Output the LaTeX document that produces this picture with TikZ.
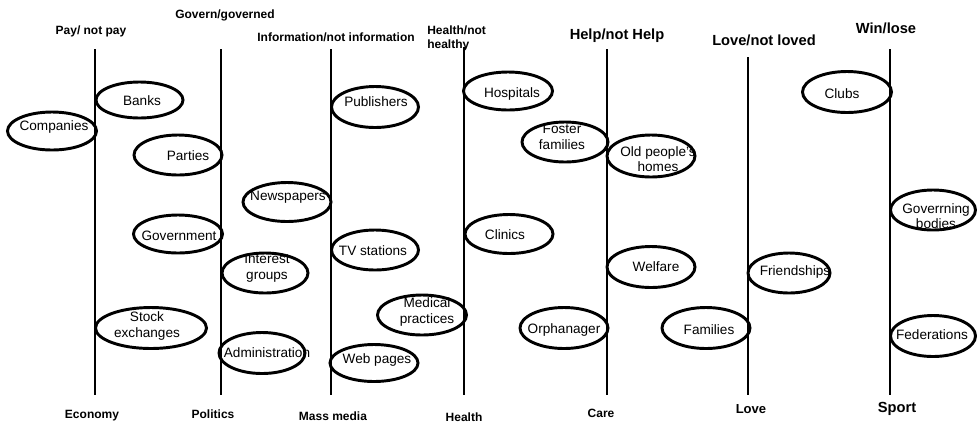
\documentclass[tikz,border=0pt]{standalone}
\usepackage{fontspec}
\setmainfont{Liberation Sans}
\usetikzlibrary{shapes.geometric}
\tikzset{
  oval/.style={ellipse, draw=black, line width=2.2pt, inner sep=0pt},
  axis/.style={line width=1.5pt},
  txt/.style={inner sep=0pt, align=center, font=\fontsize{10.2}{11.6}\selectfont},
  head/.style={inner sep=0pt, align=center, font=\fontsize{9}{10}\selectfont\bfseries},
  bighead/.style={inner sep=0pt, align=center, font=\fontsize{11}{12}\selectfont\bfseries},
}
\begin{document}
\begin{tikzpicture}[x=0.75pt,y=-0.75pt]
\useasboundingbox (0,0) rectangle (977,426);
% axes
\coordinate (ecoT) at (95,49);  \coordinate (ecoB) at (95,395);
\coordinate (polT) at (221,49); \coordinate (polB) at (221,395);
\coordinate (medT) at (331,49); \coordinate (medB) at (331,395);
\coordinate (heaT) at (464,47); \coordinate (heaB) at (464,395);
\coordinate (carT) at (607,49); \coordinate (carB) at (607,395);
\coordinate (lovT) at (748,57); \coordinate (lovB) at (748,395);
\coordinate (spoT) at (890,49); \coordinate (spoB) at (890,395);
\draw[axis] (ecoT) -- (ecoB);
\draw[axis] (polT) -- (polB);
\draw[axis] (medT) -- (medB);
\draw[axis] (heaT) -- (heaB);
\draw[axis] (carT) -- (carB);
\draw[axis] (lovT) -- (lovB);
\draw[axis] (spoT) -- (spoB);
% top labels
\node[head] (hpay) at (91,31) {Pay/ not pay};
\node[head] (hgov) at (225,15) {Govern/governed};
\node[head] (hinf) at (336,37) {Information/not information};
\node[head, align=left, anchor=north west] (hhea) at (427,26) {Health/not\\healthy};
\node[bighead] (hhel) at (617,36) {Help/not Help};
\node[bighead] (hlov) at (764,40) {Love/not loved};
\node[bighead] (hwin) at (886,28) {Win/lose};
% bottom labels
\node[head] (beco) at (92,416) {Economy};
\node[head] (bpol) at (213,414) {Politics};
\node[head] (bmed) at (333,416) {Mass media};
\node[head] (bhea) at (464,417) {Health};
\node[head] (bcar) at (601,413) {Care};
\node[head, font=\fontsize{9.8}{11}\selectfont\bfseries] (blov) at (751,409) {Love};
\node[bighead] (bspo) at (897,409) {Sport};
% ellipses
\node[oval, minimum width=66.75pt, minimum height=28.5pt] (companies) at (52,131) {};
\node[oval, minimum width=65.25pt, minimum height=27pt] (banks) at (139.5,100) {};
\node[oval, minimum width=66pt, minimum height=30pt] (parties) at (178,155) {};
\node[oval, minimum width=66.75pt, minimum height=28.5pt] (government) at (178,234) {};
\node[oval, minimum width=64.5pt, minimum height=30pt] (interest) at (265,273) {};
\node[oval, minimum width=83.25pt, minimum height=30.75pt] (stock) at (151,328) {};
\node[oval, minimum width=64.5pt, minimum height=30.75pt] (admin) at (262,353) {};
\node[oval, minimum width=66pt, minimum height=29.25pt] (newspapers) at (287,202) {};
\node[oval, minimum width=65.25pt, minimum height=30.75pt] (publishers) at (375,107) {};
\node[oval, minimum width=65.25pt, minimum height=30pt] (tv) at (375,250) {};
\node[oval, minimum width=66pt, minimum height=27.75pt] (web) at (374,363) {};
\node[oval, minimum width=66.75pt, minimum height=30pt] (medical) at (422,315) {};
\node[oval, minimum width=66.75pt, minimum height=28.5pt] (hospitals) at (508,91) {};
\node[oval, minimum width=66pt, minimum height=29.25pt] (clinics) at (509,234) {};
\node[oval, minimum width=64.5pt, minimum height=30pt] (foster) at (565,142) {};
\node[oval, minimum width=66pt, minimum height=31.5pt] (oldpeople) at (651,156) {};
\node[oval, minimum width=66pt, minimum height=30.75pt] (welfare) at (651,267) {};
\node[oval, minimum width=66pt, minimum height=30.75pt] (orphan) at (564,328) {};
\node[oval, minimum width=61.5pt, minimum height=30pt] (friends) at (789,273) {};
\node[oval, minimum width=66pt, minimum height=30.75pt] (families) at (706,328) {};
\node[oval, minimum width=66.75pt, minimum height=30.75pt] (clubs) at (847,92) {};
\node[oval, minimum width=63.75pt, minimum height=30pt] (governing) at (933,210) {};
\node[oval, minimum width=63.75pt, minimum height=30.75pt] (federations) at (933,336) {};
% ellipse texts
\node[txt] (tcompanies) at (54,127) {Companies};
\node[txt] (tbanks) at (142,101) {Banks};
\node[txt] (tparties) at (188,156) {Parties};
\node[txt] (tgovernment) at (179,236) {Government};
\node[txt] (tinterest) at (267,268) {Interest\\groups};
\node[txt] (tstock) at (147,326) {Stock\\exchanges};
\node[txt] (tadmin) at (267,353) {Administration};
\node[txt] (tnewspapers) at (288,197) {Newspapers};
\node[txt] (tpublishers) at (376,102) {Publishers};
\node[txt] (ttv) at (373,251) {TV stations};
\node[txt] (tweb) at (377,360) {Web pages};
\node[txt] (tmedical) at (427,312) {Medical\\practices};
\node[txt] (thospitals) at (512,94) {Hospitals};
\node[txt] (tclinics) at (505,235) {Clinics};
\node[txt] (tfoster) at (562,137) {Foster\\families};
\node[txt] (toldpeople) at (658,159) {Old people's\\homes};
\node[txt] (twelfare) at (656,267) {Welfare};
\node[txt] (torphan) at (564,330) {Orphanager};
\node[txt] (tfriends) at (795,272) {Friendships};
\node[txt] (tfamilies) at (709,330) {Families};
\node[txt] (tclubs) at (842,94) {Clubs};
\node[txt] (tgoverning) at (936,216) {Goverrning\\bodies};
\node[txt] (tfederations) at (932,335) {Federations};
\end{tikzpicture}
\end{document}
